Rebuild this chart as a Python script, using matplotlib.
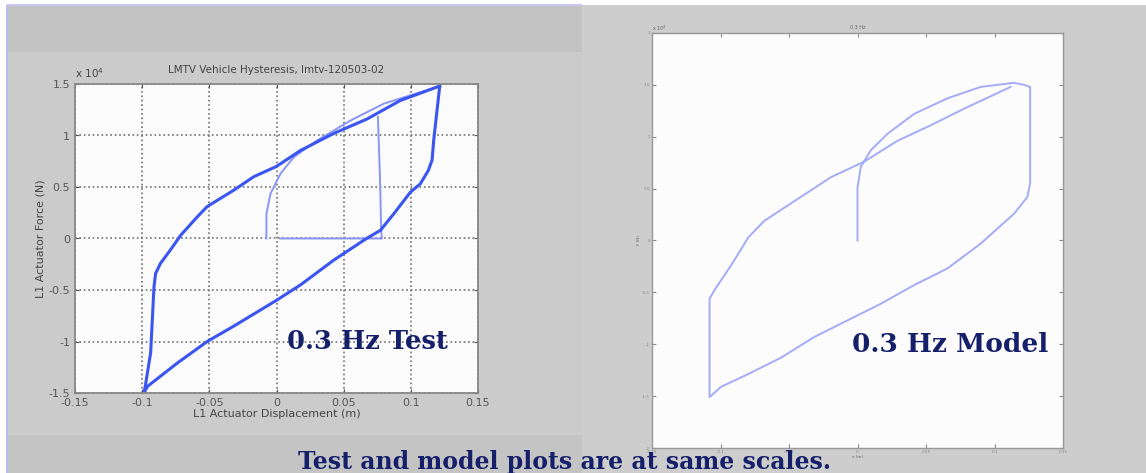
import matplotlib.pyplot as plt
from matplotlib.patches import Rectangle
from matplotlib.ticker import FuncFormatter

# Test data (displacement in m, force in N) - main hysteresis loop
test_up_x = [-0.0985, -0.0937, -0.0912, -0.0900, -0.0863, -0.0789, -0.0714, -0.0590, -0.0516,
             -0.0317, -0.0169, 0.0, 0.0179, 0.0426, 0.0674, 0.0922, 0.1215]
test_up_f = [-15000, -11100, -4700, -3400, -2400, -1100, 300, 2100, 3100,
             4700, 6000, 7000, 8550, 10200, 11600, 13400, 14800]
test_down_x = [0.1215, 0.1170, 0.1158, 0.1130, 0.1070, 0.0997, 0.0873, 0.0774, 0.0670,
               0.0426, 0.0179, 0.0, -0.0317, -0.0516, -0.0739, -0.0960, -0.0987]
test_down_f = [14800, 9500, 7600, 6600, 5300, 4500, 2400, 800, 0,
               -2100, -4500, -6000, -8500, -10000, -12100, -14350, -15000]
# first loading curve and return trace (lighter)
test_first_x = [-0.0075, -0.0075, -0.0045, 0.0030, 0.0129, 0.0300, 0.0550, 0.0800, 0.1070, 0.1215]
test_first_f = [0, 2400, 4350, 6300, 7900, 9500, 11450, 13100, 14200, 14800]
test_ret_x = [0.0755, 0.0770, 0.0780, 0.0785, 0.0030]
test_ret_f = [11800, 6000, 600, 0, 0]

# Model data
model_x = [0.0, 0.0, 0.0024, 0.0097, 0.0220, 0.0413, 0.0656, 0.0899, 0.1140, 0.1215, 0.1260,
           0.1260, 0.1240, 0.1144, 0.0899, 0.0656, 0.0413, 0.0170, -0.0073, -0.0316, -0.0559,
           -0.0802, -0.0996, -0.1080, -0.1080, -0.1040, -0.0918, -0.0797, -0.0680, -0.0437,
           -0.0194, 0.0049, 0.0290, 0.0534, 0.0777, 0.1117]
model_f = [0, 5100, 7100, 8700, 10300, 12200, 13700, 14800, 15200, 15000, 14800,
           5500, 4200, 2600, -300, -2700, -4300, -6100, -7700, -9300, -11300,
           -12900, -14100, -15100, -5600, -4700, -2300, 300, 1900, 4000,
           6100, 7600, 9600, 11100, 12700, 14800]

xticks = [-0.15, -0.1, -0.05, 0, 0.05, 0.1, 0.15]
yticks_test = [-15000, -10000, -5000, 0, 5000, 10000, 15000]
yticks_model = [-20000, -15000, -10000, -5000, 0, 5000, 10000, 15000, 20000]

W, H = 1146, 473
fig = plt.figure(figsize=(W / 100, H / 100), dpi=100)
fig.patch.set_facecolor('white')

def px_rect(x0, y0, x1, y1, color, z=-2):
    fig.patches.append(Rectangle((x0 / W, 1 - y1 / H), (x1 - x0) / W, (y1 - y0) / H,
                                 transform=fig.transFigure, facecolor=color,
                                 edgecolor='none', zorder=z))

# slide panels
px_rect(7, 5, 582, 473, '#cbcbcb')
px_rect(7, 5, 582, 52, '#c2c2c2')
px_rect(7, 435, 582, 473, '#c4c4c4')
px_rect(582, 5, 1146, 473, '#cdcdcd')
px_rect(6, 5, 8, 473, '#b8b8f0', -1)
px_rect(7, 4, 582, 6, '#c8c8f4', -1)

fmt = FuncFormatter(lambda v, p: '%g' % (v / 1e4))
xfmt = FuncFormatter(lambda v, p: '%g' % round(v, 2))

# left: test
ax1 = fig.add_axes([75 / W, 1 - 393 / H, 403 / W, 309 / H])
ax1.set_facecolor('#fbfbfb')
ax1.plot(test_first_x, test_first_f, color='#8a96f6', lw=1.4)
ax1.plot(test_ret_x, test_ret_f, color='#8a96f6', lw=1.4)
ax1.plot(test_up_x, test_up_f, color='#3a55f0', lw=2.2)
ax1.plot(test_down_x, test_down_f, color='#3a55f0', lw=2.2)
ax1.set_xlim(-0.15, 0.15)
ax1.set_ylim(-15000, 15000)
ax1.set_xticks(xticks)
ax1.set_yticks(yticks_test)
ax1.xaxis.set_major_formatter(xfmt)
ax1.yaxis.set_major_formatter(fmt)
ax1.grid(True, linestyle=':', color='#707070', lw=1.2)
ax1.tick_params(colors='#555555', labelsize=8, length=3, direction='in', top=True, right=True)
for s in ax1.spines.values():
    s.set_color('#888888')
    s.set_linewidth(1.3)
ax1.set_title('LMTV Vehicle Hysteresis, lmtv-120503-02', fontsize=7.5, color='#444444', pad=8)
ax1.set_xlabel('L1 Actuator Displacement (m)', fontsize=8, color='#444444', labelpad=1)
ax1.set_ylabel('L1 Actuator Force (N)', fontsize=8, color='#444444', labelpad=2)
ax1.text(0.0, 1.02, r'x 10$^4$', transform=ax1.transAxes, fontsize=7.5, color='#444444')
ax1.text(0.0075, -10000, '0.3 Hz Test', fontsize=18.5, fontweight='bold', family='DejaVu Serif',
         color='#16206a', va='center', ha='left')

# right: model
ax2 = fig.add_axes([652 / W, 1 - 448 / H, 411 / W, 415 / H])
ax2.set_facecolor('#fcfcfc')
ax2.plot(model_x, model_f, color='#a4acf6', lw=1.4)
ax2.set_xlim(-0.15, 0.15)
ax2.set_ylim(-20000, 20000)
ax2.set_xticks(xticks)
ax2.set_yticks(yticks_model)
ax2.xaxis.set_major_formatter(xfmt)
ax2.yaxis.set_major_formatter(fmt)
ax2.tick_params(colors='#888888', labelsize=3, length=3, pad=1.5, direction='in', top=True, right=True)
for s in ax2.spines.values():
    s.set_color('#999999')
    s.set_linewidth(1.0)
ax2.set_title('0.3 Hz', fontsize=3.5, color='#666666', pad=3)
ax2.set_xlabel('x (m)', fontsize=3, color='#666666', labelpad=1)
ax2.set_ylabel('F (N)', fontsize=3, color='#666666', labelpad=1)
ax2.text(0.0, 1.005, r'x 10$^4$', transform=ax2.transAxes, fontsize=3.5, color='#666666')
ax2.text(-0.004, -10000, '0.3 Hz Model', fontsize=19, fontweight='bold', family='DejaVu Serif',
         color='#16206a', va='center', ha='left')

fig.text(565 / W, 1 - 462 / H, 'Test and model plots are at same scales.', fontsize=17,
         fontweight='bold', family='DejaVu Serif', color='#16206a', ha='center', va='center',
         zorder=5)

fig.savefig('out.png', dpi=100)
